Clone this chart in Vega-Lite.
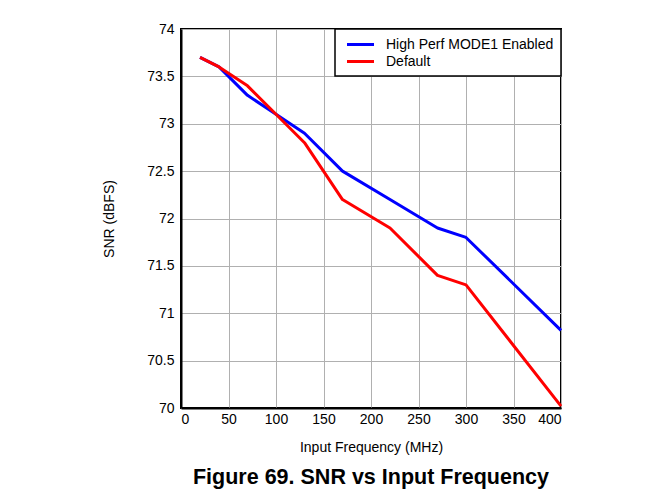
{
  "$schema": "https://vega.github.io/schema/vega-lite/v6.json",
  "width": 380,
  "height": 379,
  "padding": {"left": 102, "top": 22, "right": 109, "bottom": 12},
  "background": "white",
  "title": {
    "text": "Figure 69. SNR vs Input Frequency",
    "orient": "bottom",
    "anchor": "middle",
    "frame": "group",
    "font": "Liberation Sans",
    "fontSize": 21.5,
    "fontWeight": "bold",
    "color": "black",
    "offset": 13
  },
  "data": {
    "values": [
      {"freq": 20, "snr": 73.7, "series": "High Perf MODE1 Enabled"},
      {"freq": 40, "snr": 73.6, "series": "High Perf MODE1 Enabled"},
      {"freq": 70, "snr": 73.3, "series": "High Perf MODE1 Enabled"},
      {"freq": 100, "snr": 73.1, "series": "High Perf MODE1 Enabled"},
      {"freq": 130, "snr": 72.9, "series": "High Perf MODE1 Enabled"},
      {"freq": 170, "snr": 72.5, "series": "High Perf MODE1 Enabled"},
      {"freq": 220, "snr": 72.2, "series": "High Perf MODE1 Enabled"},
      {"freq": 270, "snr": 71.9, "series": "High Perf MODE1 Enabled"},
      {"freq": 300, "snr": 71.8, "series": "High Perf MODE1 Enabled"},
      {"freq": 400, "snr": 70.82, "series": "High Perf MODE1 Enabled"},
      {"freq": 20, "snr": 73.7, "series": "Default"},
      {"freq": 40, "snr": 73.6, "series": "Default"},
      {"freq": 70, "snr": 73.4, "series": "Default"},
      {"freq": 100, "snr": 73.1, "series": "Default"},
      {"freq": 130, "snr": 72.8, "series": "Default"},
      {"freq": 170, "snr": 72.2, "series": "Default"},
      {"freq": 220, "snr": 71.9, "series": "Default"},
      {"freq": 270, "snr": 71.4, "series": "Default"},
      {"freq": 300, "snr": 71.3, "series": "Default"},
      {"freq": 400, "snr": 70.02, "series": "Default"}
    ]
  },
  "mark": {"type": "line", "strokeWidth": 3, "strokeJoin": "round"},
  "encoding": {
    "x": {
      "field": "freq",
      "type": "quantitative",
      "title": "Input Frequency (MHz)",
      "scale": {"domain": [0, 400], "nice": false},
      "axis": {"values": [0, 50, 100, 150, 200, 250, 300, 350, 400], "titlePadding": 14, "labelPadding": 4, "labelOverlap": false}
    },
    "y": {
      "field": "snr",
      "type": "quantitative",
      "title": "SNR (dBFS)",
      "scale": {"domain": [70, 74], "nice": false, "zero": false},
      "axis": {"values": [70, 70.5, 71, 71.5, 72, 72.5, 73, 73.5, 74], "titlePadding": 30, "labelPadding": 7, "format": "~g"}
    },
    "color": {
      "field": "series",
      "type": "nominal",
      "sort": ["High Perf MODE1 Enabled", "Default"],
      "scale": {"domain": ["High Perf MODE1 Enabled", "Default"], "range": ["#0000ff", "#ff0000"]},
      "legend": {
        "title": null,
        "orient": "top-right",
        "offset": 0,
        "symbolType": "M-2,0H2",
        "symbolSize": 182,
        "symbolStrokeWidth": 3,
        "labelOffset": 17,
        "symbolOffset": 10,
        "padding": 7,
        "rowPadding": 1,
        "labelLimit": 400,
        "strokeColor": "black",
        "fillColor": "white",
        "labelFont": "Liberation Sans",
        "labelFontSize": 14,
        "labelColor": "black",
        "encode": {"legend": {"update": {"strokeWidth": {"value": 1.5}}}}
      }
    }
  },
  "config": {
    "font": "Liberation Sans",
    "view": {"stroke": "black", "strokeWidth": 2},
    "axis": {
      "domainColor": "black",
      "domainWidth": 2,
      "ticks": false,
      "gridColor": "#b0b0b0",
      "gridWidth": 1,
      "gridOpacity": 1,
      "labelFont": "Liberation Sans",
      "labelFontSize": 14,
      "labelColor": "black",
      "titleFont": "Liberation Sans",
      "titleFontSize": 14,
      "titleFontWeight": "normal",
      "titleColor": "black"
    }
  }
}
